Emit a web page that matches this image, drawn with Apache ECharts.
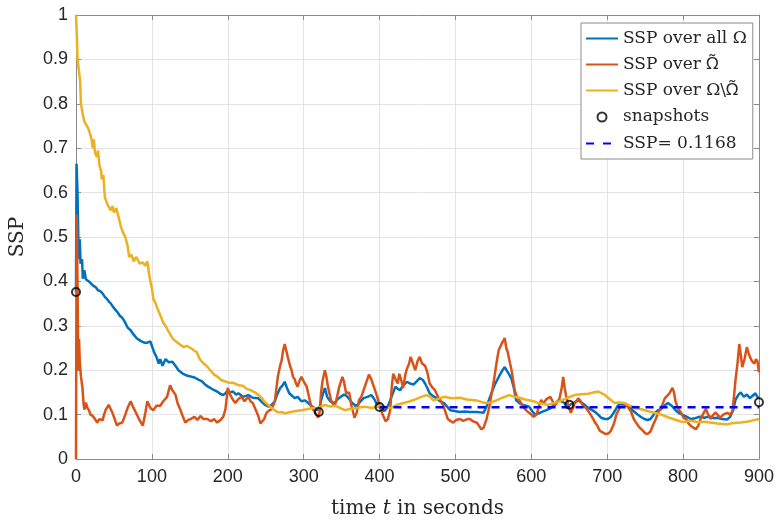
<!DOCTYPE html>
<html>
<head>
<meta charset="utf-8">
<script src="https://cdn.jsdelivr.net/npm/echarts@6/dist/echarts.min.js"></script>
<style>
html,body{margin:0;padding:0;background:#fff}
#chart{width:777px;height:524px}
</style>
</head>
<body>
<div id="chart"></div>
<script>
// [time, SSP]
var sspAll = [
	[0,0.375],[0.7,0.665],[2,0.60],[3.5,0.45],[5,0.495],[6,0.44],[7,0.436],[8,0.45],[9,0.406],[11,0.425],
	[13,0.405],[17,0.40],[20,0.395],[23,0.39],[26,0.387],[29,0.38],[32,0.378],[35,0.373],[38,0.365],[41,0.36],
	[43,0.355],[46,0.35],[49,0.342],[52,0.336],[55,0.33],[58,0.322],[61,0.318],[64,0.31],[68,0.296],[72,0.29],
	[76,0.28],[80,0.272],[85,0.266],[90,0.262],[94,0.262],[98,0.265],[101,0.25],[103,0.24],[106,0.23],[109,0.215],
	[111,0.225],[114,0.21],[118,0.225],[122,0.218],[127,0.219],[131,0.21],[135,0.2],[140,0.193],[146,0.188],[151,0.186],
	[157,0.183],[162,0.178],[166,0.175],[170,0.168],[174,0.163],[180,0.157],[186,0.152],[190,0.147],[194,0.144],[197,0.148],
	[200,0.155],[203,0.15],[207,0.152],[211,0.145],[214,0.148],[220,0.14],[227,0.144],[233,0.138],[240,0.137],[245,0.128],
	[249,0.122],[254,0.118],[258,0.122],[262,0.13],[265,0.145],[269,0.16],[272,0.165],[275,0.174],[278,0.16],[281,0.148],
	[285,0.142],[288,0.137],[292,0.14],[297,0.13],[302,0.132],[306,0.126],[310,0.12],[314,0.115],[318,0.11],[321,0.115],
	[323,0.132],[326,0.15],[328,0.16],[331,0.14],[335,0.13],[341,0.126],[345,0.135],[349,0.14],[353,0.145],[356,0.143],
	[360,0.135],[363,0.128],[368,0.12],[371,0.122],[375,0.13],[379,0.137],[384,0.14],[389,0.144],[393,0.135],[398,0.118],
	[402,0.115],[406,0.108],[410,0.115],[414,0.132],[418,0.15],[421,0.163],[424,0.158],[427,0.155],[431,0.165],[436,0.174],
	[440,0.17],[445,0.168],[449,0.175],[453,0.182],[457,0.178],[460,0.17],[463,0.16],[466,0.148],[470,0.142],[475,0.137],
	[480,0.13],[485,0.126],[489,0.118],[493,0.11],[499,0.108],[506,0.106],[512,0.107],[519,0.106],[528,0.106],[533,0.105],
	[537,0.104],[541,0.118],[545,0.137],[549,0.155],[552,0.168],[555,0.178],[558,0.188],[562,0.2],[565,0.207],[568,0.198],
	[571,0.19],[574,0.18],[577,0.16],[580,0.132],[585,0.125],[589,0.122],[593,0.12],[597,0.118],[601,0.108],[605,0.1],
	[610,0.103],[614,0.106],[620,0.11],[626,0.115],[631,0.125],[636,0.132],[642,0.128],[649,0.12],[655,0.126],[662,0.132],
	[668,0.125],[675,0.115],[680,0.11],[684,0.106],[688,0.1],[692,0.093],[697,0.09],[701,0.09],[705,0.095],[710,0.108],
	[714,0.12],[718,0.125],[723,0.123],[728,0.118],[731,0.113],[736,0.106],[740,0.1],[745,0.094],[749,0.09],[753,0.088],
	[757,0.09],[760,0.097],[763,0.104],[767,0.11],[771,0.112],[775,0.12],[780,0.126],[785,0.12],[790,0.11],[795,0.103],
	[799,0.1],[805,0.095],[810,0.09],[816,0.092],[822,0.095],[828,0.093],[835,0.096],[840,0.092],[845,0.093],[851,0.09],
	[858,0.089],[862,0.095],[866,0.11],[869,0.133],[873,0.145],[876,0.15],[880,0.14],[884,0.145],[888,0.137],[892,0.143],
	[895,0.148],[898,0.14],[900,0.137]
];
var sspTilde = [
	[0,0.0],[0.8,0.55],[2,0.40],[3,0.2],[4,0.27],[5,0.22],[6.5,0.186],[8.5,0.16],[10,0.125],[11,0.111],
	[13,0.127],[15,0.115],[17,0.11],[19,0.1],[22,0.097],[25,0.09],[28,0.082],[31,0.09],[35,0.087],[37,0.1],
	[39,0.11],[43,0.122],[45,0.115],[48,0.104],[51,0.09],[54,0.075],[57,0.08],[61,0.082],[65,0.1],[68,0.115],
	[72,0.13],[75,0.118],[79,0.104],[83,0.09],[88,0.075],[91,0.1],[94,0.13],[98,0.115],[102,0.11],[106,0.12],
	[111,0.12],[115,0.13],[120,0.14],[124,0.166],[127,0.155],[131,0.145],[134,0.125],[137,0.113],[141,0.095],[144,0.082],
	[148,0.088],[151,0.09],[156,0.095],[160,0.088],[164,0.097],[168,0.09],[173,0.09],[178,0.085],[182,0.09],[186,0.082],
	[190,0.087],[194,0.095],[197,0.113],[200,0.16],[203,0.145],[207,0.133],[210,0.126],[214,0.135],[218,0.14],[222,0.13],
	[227,0.14],[230,0.13],[233,0.126],[237,0.11],[240,0.098],[243,0.08],[245,0.082],[248,0.09],[251,0.104],[255,0.11],
	[258,0.112],[262,0.13],[266,0.186],[269,0.21],[271,0.222],[273,0.245],[275,0.259],[277,0.245],[279,0.23],[282,0.21],
	[284,0.2],[286,0.185],[288,0.18],[290,0.17],[292,0.163],[295,0.178],[297,0.185],[300,0.175],[304,0.163],[307,0.14],
	[310,0.118],[313,0.11],[317,0.1],[319,0.093],[321,0.105],[323,0.15],[325,0.177],[328,0.2],[330,0.185],[332,0.163],
	[336,0.133],[338,0.125],[341,0.12],[344,0.14],[347,0.163],[351,0.185],[353,0.175],[356,0.148],[360,0.15],[363,0.12],
	[367,0.093],[370,0.105],[373,0.133],[376,0.14],[380,0.16],[383,0.175],[386,0.19],[389,0.18],[391,0.17],[394,0.155],
	[397,0.14],[400,0.12],[404,0.1],[408,0.085],[411,0.09],[414,0.11],[416,0.16],[418,0.192],[421,0.18],[424,0.17],
	[426,0.192],[429,0.175],[431,0.16],[434,0.19],[436,0.203],[439,0.215],[441,0.23],[444,0.215],[447,0.2],[450,0.22],
	[453,0.23],[456,0.215],[460,0.21],[463,0.195],[466,0.17],[470,0.16],[473,0.155],[477,0.14],[480,0.133],[484,0.12],
	[486,0.11],[490,0.09],[494,0.085],[497,0.082],[501,0.088],[506,0.09],[510,0.086],[512,0.082],[516,0.09],[519,0.09],
	[523,0.085],[528,0.082],[531,0.075],[534,0.067],[537,0.07],[541,0.09],[545,0.12],[548,0.15],[551,0.18],[554,0.215],
	[557,0.245],[561,0.26],[565,0.272],[567,0.25],[569,0.24],[572,0.215],[574,0.2],[578,0.155],[581,0.14],[584,0.133],
	[589,0.118],[593,0.11],[597,0.104],[600,0.1],[603,0.095],[607,0.1],[610,0.12],[613,0.133],[616,0.125],[620,0.135],
	[625,0.14],[628,0.13],[631,0.12],[634,0.128],[637,0.135],[640,0.16],[642,0.185],[644,0.16],[646,0.14],[649,0.12],
	[652,0.104],[655,0.115],[657,0.125],[660,0.132],[662,0.137],[665,0.13],[668,0.12],[672,0.115],[675,0.108],[680,0.095],
	[684,0.082],[687,0.075],[690,0.064],[694,0.06],[698,0.056],[702,0.058],[705,0.064],[709,0.08],[712,0.1],[715,0.11],
	[718,0.12],[722,0.118],[725,0.122],[728,0.115],[731,0.108],[735,0.09],[738,0.082],[742,0.072],[747,0.064],[750,0.058],
	[753,0.056],[757,0.062],[760,0.075],[764,0.09],[767,0.104],[771,0.115],[776,0.137],[779,0.142],[782,0.148],[786,0.16],
	[788,0.15],[790,0.13],[793,0.115],[797,0.105],[801,0.092],[804,0.09],[807,0.08],[810,0.075],[814,0.07],[817,0.067],
	[820,0.075],[823,0.09],[826,0.1],[830,0.113],[833,0.1],[836,0.09],[840,0.1],[843,0.105],[846,0.098],[849,0.093],
	[853,0.1],[858,0.104],[862,0.1],[865,0.108],[867,0.14],[869,0.177],[872,0.22],[874,0.259],[876,0.235],[878,0.207],
	[881,0.225],[884,0.252],[886,0.24],[888,0.23],[891,0.22],[894,0.215],[896,0.225],[898,0.22],[900,0.195]
];
var sspRest = [
	[0,1.0],[1,0.96],[2,0.902],[4.5,0.90],[5.5,0.85],[6.5,0.80],[9,0.775],[11,0.76],[16,0.745],[19,0.73],
	[21,0.715],[22,0.70],[23.5,0.72],[25,0.69],[27.5,0.68],[29,0.695],[31,0.66],[33,0.65],[34,0.63],[36,0.64],
	[38,0.59],[41,0.575],[43,0.568],[46,0.56],[48,0.57],[50,0.555],[53,0.565],[56,0.546],[59,0.524],[62,0.51],
	[65,0.50],[68,0.48],[70,0.455],[73,0.46],[76,0.445],[79,0.455],[81,0.45],[84,0.44],[88,0.443],[91,0.435],
	[94,0.445],[96,0.42],[98,0.40],[100,0.385],[102,0.36],[105,0.35],[107,0.34],[109,0.332],[112,0.32],[115,0.307],
	[118,0.30],[121,0.29],[124,0.281],[128,0.27],[133,0.263],[137,0.258],[142,0.252],[146,0.255],[151,0.25],[155,0.245],
	[159,0.241],[163,0.225],[168,0.215],[172,0.21],[177,0.20],[182,0.19],[187,0.185],[191,0.178],[196,0.175],[201,0.172],
	[207,0.172],[214,0.166],[220,0.165],[225,0.158],[230,0.155],[236,0.15],[240,0.145],[245,0.137],[249,0.128],[253,0.122],
	[258,0.115],[262,0.11],[266,0.105],[270,0.106],[276,0.103],[283,0.106],[290,0.108],[297,0.11],[304,0.112],[311,0.115],
	[320,0.115],[328,0.122],[335,0.118],[341,0.12],[348,0.115],[354,0.11],[362,0.113],[371,0.115],[380,0.118],[390,0.115],
	[402,0.12],[410,0.116],[415,0.115],[423,0.122],[432,0.126],[440,0.13],[448,0.135],[455,0.14],[462,0.144],[467,0.14],
	[471,0.132],[478,0.136],[485,0.14],[495,0.137],[506,0.138],[515,0.134],[528,0.132],[535,0.128],[541,0.126],[548,0.128],
	[554,0.132],[562,0.138],[571,0.144],[578,0.14],[584,0.138],[592,0.134],[603,0.13],[609,0.126],[616,0.124],[622,0.122],
	[630,0.126],[640,0.132],[648,0.138],[657,0.144],[666,0.146],[675,0.147],[682,0.15],[688,0.152],[693,0.148],[697,0.144],
	[703,0.135],[710,0.126],[716,0.127],[723,0.126],[730,0.12],[736,0.115],[745,0.112],[753,0.108],[762,0.104],[771,0.10],
	[780,0.094],[789,0.089],[796,0.085],[801,0.083],[810,0.086],[820,0.083],[828,0.084],[836,0.082],[845,0.08],[852,0.079],
	[858,0.078],[866,0.081],[876,0.082],[884,0.084],[892,0.087],[900,0.09]
];
var snapshots = [[0,0.376],[320,0.106],[400,0.117],[650,0.122],[900,0.128]];
var sspMean = 0.1168;
var meanFrom = 400, meanTo = 900;

var omegaTilde = '\u03A9\u0303';
var nameAll = 'SSP over all \u03A9';
var nameTilde = 'SSP over ' + omegaTilde;
var nameRest = 'SSP over \u03A9\\' + omegaTilde;
var nameSnap = 'snapshots';
var nameMean = 'SSP= ' + sspMean;

var axisColor = '#8a8a8a';
var gridColor = '#e4e4e4';
var textColor = '#262626';
var serif = 'DejaVu Serif';

function boxAxis(pos){
	var horiz = (pos == 'top');
	return {
		type: 'value', position: pos, min: 0,
		max: horiz ? 900 : 1,
		interval: horiz ? 100 : 0.1,
		axisLine: {show: true, onZero: false, lineStyle: {color: axisColor, width: 1}},
		axisTick: {show: true, inside: true, length: 5, lineStyle: {color: axisColor}},
		axisLabel: {show: false},
		splitLine: {show: false}
	};
}

var hideMark = {opacity: 0};
var chart = echarts.init(document.getElementById('chart'), null, {renderer: 'canvas'});
chart.setOption({
	animation: false,
	backgroundColor: '#fff',
	grid: {left: 75, right: 15, top: 15, bottom: 57},
	xAxis: [{
		type: 'value', min: 0, max: 900, interval: 100,
		name: 'time {i|t} in seconds', nameLocation: 'middle', nameGap: 40,
		nameTextStyle: {fontFamily: serif, fontSize: 20, color: textColor,
			rich: {i: {fontFamily: serif, fontStyle: 'italic', fontSize: 20, color: textColor}}},
		axisLine: {show: true, onZero: false, lineStyle: {color: axisColor, width: 1}},
		axisTick: {show: true, inside: true, length: 5, lineStyle: {color: axisColor}},
		axisLabel: {margin: 9, fontFamily: 'Liberation Sans', fontSize: 18, color: textColor},
		splitLine: {show: true, lineStyle: {color: gridColor, width: 1}}
	}, boxAxis('top')],
	yAxis: [{
		type: 'value', min: 0, max: 1, interval: 0.1,
		name: 'SSP', nameLocation: 'middle', nameGap: 48,
		nameTextStyle: {fontFamily: serif, fontSize: 20, color: textColor},
		axisLine: {show: true, onZero: false, lineStyle: {color: axisColor, width: 1}},
		axisTick: {show: true, inside: true, length: 5, lineStyle: {color: axisColor}},
		axisLabel: {margin: 8, fontFamily: 'Liberation Sans', fontSize: 18, color: textColor},
		splitLine: {show: true, lineStyle: {color: gridColor, width: 1}}
	}, boxAxis('right')],
	legend: {
		orient: 'vertical', left: 581, top: 23,
		padding: [7, 6, 7, 4],
		itemWidth: 32, itemHeight: 16, itemGap: 9,
		backgroundColor: '#fff', borderColor: '#8c8c8c', borderWidth: 1,
		textStyle: {fontFamily: serif, fontSize: 17, color: textColor, lineHeight: 16,
			rich: {o: {fontFamily: 'Noto Sans', fontSize: 17, color: textColor, lineHeight: 16}}},
		formatter: function(name){
			return name.split(omegaTilde).join('{o|' + omegaTilde + '}');
		},
		data: [
			{name: nameAll, itemStyle: hideMark},
			{name: nameTilde, itemStyle: hideMark},
			{name: nameRest, itemStyle: hideMark},
			{name: nameSnap, icon: 'path://M0,0L0,0M32,16L32,16M20.5,8A4.5,4.5,0,1,1,11.5,8A4.5,4.5,0,1,1,20.5,8Z',
				itemStyle: {color: 'rgba(0,0,0,0)', borderColor: '#000', borderWidth: 2}},
			{name: nameMean, itemStyle: hideMark, lineStyle: {type: [8, 9]}}
		]
	},
	series: [{
		name: nameAll, type: 'line', data: sspAll, symbol: 'none', showSymbol: false,
		lineStyle: {color: '#0072BD', width: 2.5}, itemStyle: {color: '#0072BD'}, z: 2
	}, {
		name: nameTilde, type: 'line', data: sspTilde, symbol: 'none', showSymbol: false,
		lineStyle: {color: '#D95319', width: 2.5}, itemStyle: {color: '#D95319'}, z: 2
	}, {
		name: nameRest, type: 'line', data: sspRest, symbol: 'none', showSymbol: false,
		lineStyle: {color: '#EDB120', width: 2.5}, itemStyle: {color: '#EDB120'}, z: 2
	}, {
		name: nameSnap, type: 'scatter', data: snapshots, symbol: 'circle', symbolSize: 8,
		itemStyle: {color: 'rgba(0,0,0,0)', borderColor: '#000', borderWidth: 2}, z: 5
	}, {
		name: nameMean, type: 'line', data: [[meanFrom, sspMean], [meanTo, sspMean]],
		symbol: 'none', showSymbol: false,
		lineStyle: {color: '#0000FF', width: 2.5, type: [8, 6]}, itemStyle: {color: '#0000FF'}, z: 4
	}]
});
</script>
</body>
</html>
